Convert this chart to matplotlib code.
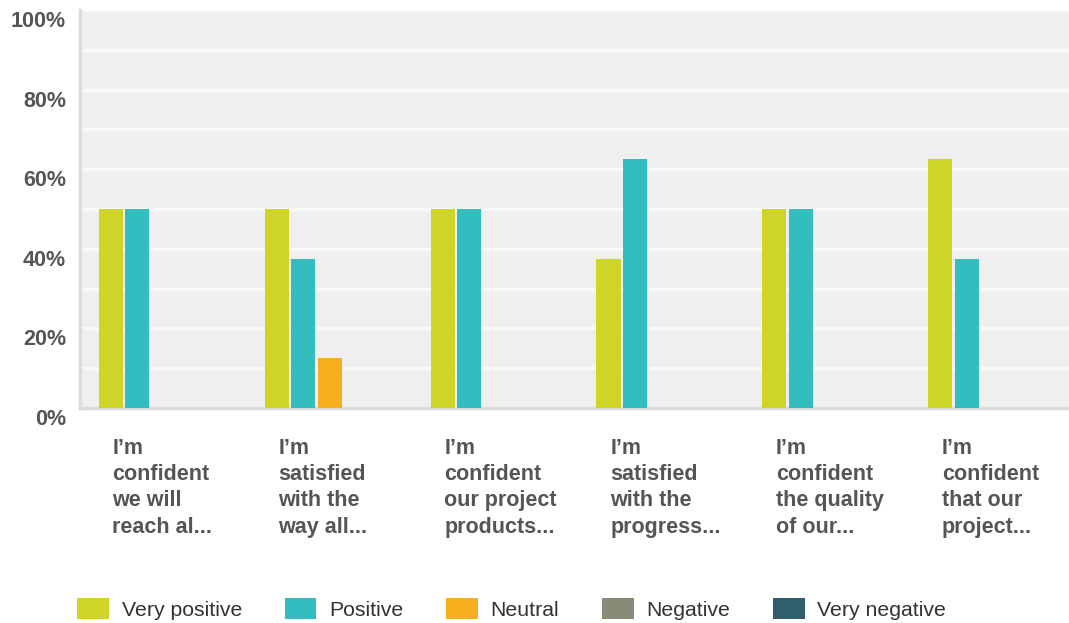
import numpy as np
import matplotlib
matplotlib.use('Agg')
import matplotlib.pyplot as plt
import matplotlib.transforms as mtransforms
from matplotlib.patches import Patch

plt.rcParams['font.family'] = ['Liberation Sans', 'DejaVu Sans']

# Data (share of respondents)
questions = [
    "I\u2019m\nconfident\nwe will\nreach al...",
    "I\u2019m\nsatisfied\nwith the\nway all...",
    "I\u2019m\nconfident\nour project\nproducts...",
    "I\u2019m\nsatisfied\nwith the\nprogress...",
    "I\u2019m\nconfident\nthe quality\nof our...",
    "I\u2019m\nconfident\nthat our\nproject...",
]
series_names = ['Very positive', 'Positive', 'Neutral', 'Negative', 'Very negative']
very_positive = [0.50, 0.50, 0.50, 0.375, 0.50, 0.625]
positive = [0.50, 0.375, 0.50, 0.625, 0.50, 0.375]
neutral = [0.0, 0.125, 0.0, 0.0, 0.0, 0.0]
negative = [0.0, 0.0, 0.0, 0.0, 0.0, 0.0]
very_negative = [0.0, 0.0, 0.0, 0.0, 0.0, 0.0]
yticks = [0, 0.2, 0.4, 0.6, 0.8, 1.0]
ytick_labels = ['0%', '20%', '40%', '60%', '80%', '100%']

colors = ['#cfd429', '#33bdbe', '#f6ae1f', '#898a78', '#2e5f6b']
series = [very_positive, positive, neutral, negative, very_negative]

W, H = 1069, 623
fig = plt.figure(figsize=(W / 100, H / 100), dpi=100)
ax = fig.add_axes([80 / W, (H - 408) / H, (W - 80) / W, 398 / H])
ax.set_facecolor('#efefef')

x = np.arange(len(questions))
pitch = 0.16
width = 0.145
for k, (vals, col) in enumerate(zip(series, colors)):
    ax.bar(x + (k - 2) * pitch + 0.005, vals, width=width, color=col, zorder=3)

ax.set_xlim(-0.5, 5.46)
ax.set_ylim(0, 1.0)

# white gridlines every 10%
ax.set_yticks(np.arange(0, 1.01, 0.1), minor=True)
ax.grid(True, axis='y', which='both', color='#f9f9f9', linewidth=2.5, zorder=1)
ax.set_axisbelow(True)

ax.set_yticks(yticks)
ax.set_yticklabels(ytick_labels, fontsize=15.5, fontweight='bold', color='#555555')
ax.tick_params(axis='y', which='both', length=0, pad=10)
offset = mtransforms.ScaledTranslation(0, -9 / 100, fig.dpi_scale_trans)
for lab in ax.get_yticklabels():
    lab.set_transform(lab.get_transform() + offset)

ax.set_xticks([])
for s in ['top', 'right']:
    ax.spines[s].set_visible(False)
for s in ['left', 'bottom']:
    ax.spines[s].set_color('#dcdcdc')
    ax.spines[s].set_linewidth(2.5)

# category labels, left aligned
trans = mtransforms.blended_transform_factory(ax.transData, ax.transAxes)
for i, q in enumerate(questions):
    ax.text(i - 0.305, -0.075, q, transform=trans, ha='left', va='top',
            fontsize=15.5, fontweight='bold', color='#555555', linespacing=1.33)

handles = [Patch(facecolor=c, edgecolor=c, linewidth=0) for c in colors]
fig.legend(handles, series_names, loc='center left',
           bbox_to_anchor=(77 / W, 14 / H), ncol=5, frameon=False,
           fontsize=15.3, handlelength=1.5, handleheight=1.1,
           handletextpad=0.6, columnspacing=2.0, borderpad=0,
           borderaxespad=0, labelcolor='#333333')

fig.savefig('out.png', dpi=100)
